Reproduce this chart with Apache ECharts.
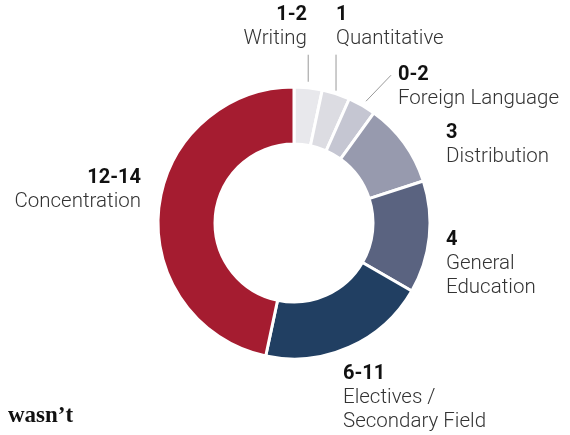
<!DOCTYPE html>
<html>
<head>
<meta charset="utf-8">
<script src="https://cdn.jsdelivr.net/npm/echarts@6/dist/echarts.min.js"></script>
<style>
html, body { margin: 0; padding: 0; background: #fff; }
#main { width: 570px; height: 435px; }
</style>
</head>
<body>
<div id="main"></div>
<script>
// 学分构成数据
var names = ['Writing', 'Quantitative', 'Foreign Language', 'Distribution', 'General\nEducation', 'Electives /\nSecondary Field', 'Concentration'];
var ranges = ['1-2', '1', '0-2', '3', '4', '6-11', '12-14'];
var values = [1, 1, 1, 3, 4, 6, 14];
var colors = ['#e8e8ec', '#dcdce2', '#c5c6d2', '#979aae', '#5a6380', '#213f62', '#a51c30'];

// 标签位置 [x, y, 对齐]
var labelPos = [[307, 3, 'right'], [336, 3, 'left'], [398, 63, 'left'], [446, 121, 'left'], [446, 228, 'left'], [343, 362, 'left'], [141, 166, 'right']];
// 引线（相对扇区外缘中点的偏移）
var leaders = [[[0, -6], [0, -33]], [[0, -3], [0, -39]], [[4, -4], [29, -30]], null, null, null, null];

var pieData = [];
for (var i = 0; i < values.length; i++) {
    pieData.push({
        value: values[i],
        name: names[i],
        range: ranges[i],
        itemStyle: { color: colors[i] },
        labelLine: { show: leaders[i] != null }
    });
}

var myChart = echarts.init(document.getElementById('main'));
var option = {
    animation: false,
    graphic: [{
        type: 'text',
        left: 8,
        top: 405,
        style: {
            text: 'wasn\u2019t',
            fontFamily: 'Liberation Serif',
            fontWeight: 'bold',
            fontSize: 23,
            fill: '#111'
        }
    }],
    series: [{
        type: 'pie',
        center: [294, 223],
        radius: [79, 136],
        startAngle: 90,
        clockwise: true,
        avoidLabelOverlap: false,
        itemStyle: { borderColor: '#fff', borderWidth: 3 },
        emphasis: { disabled: true },
        label: {
            show: true,
            position: 'outside',
            formatter: function (p) {
                return '{n|' + p.data.range + '}\n{t|' + p.name + '}';
            },
            rich: {
                n: { fontFamily: 'Roboto', fontWeight: 'bold', fontSize: 20, color: '#111', lineHeight: 24 },
                t: { fontFamily: 'Roboto', fontWeight: 300, fontSize: 20.5, color: '#333', lineHeight: 24 }
            }
        },
        labelLine: {
            length: 10,
            length2: 5,
            lineStyle: { color: '#999', width: 1 }
        },
        labelLayout: function (p) {
            var pos = labelPos[p.dataIndex];
            var res = { x: pos[0], y: pos[1], align: pos[2], verticalAlign: 'top' };
            var l = leaders[p.dataIndex];
            if (l && p.labelLinePoints) {
                var a = p.labelLinePoints[0];
                res.labelLinePoints = [[a[0] + l[0][0], a[1] + l[0][1]], [a[0] + l[1][0], a[1] + l[1][1]]];
            }
            return res;
        },
        data: pieData
    }]
};
myChart.setOption(option);
</script>
</body>
</html>
